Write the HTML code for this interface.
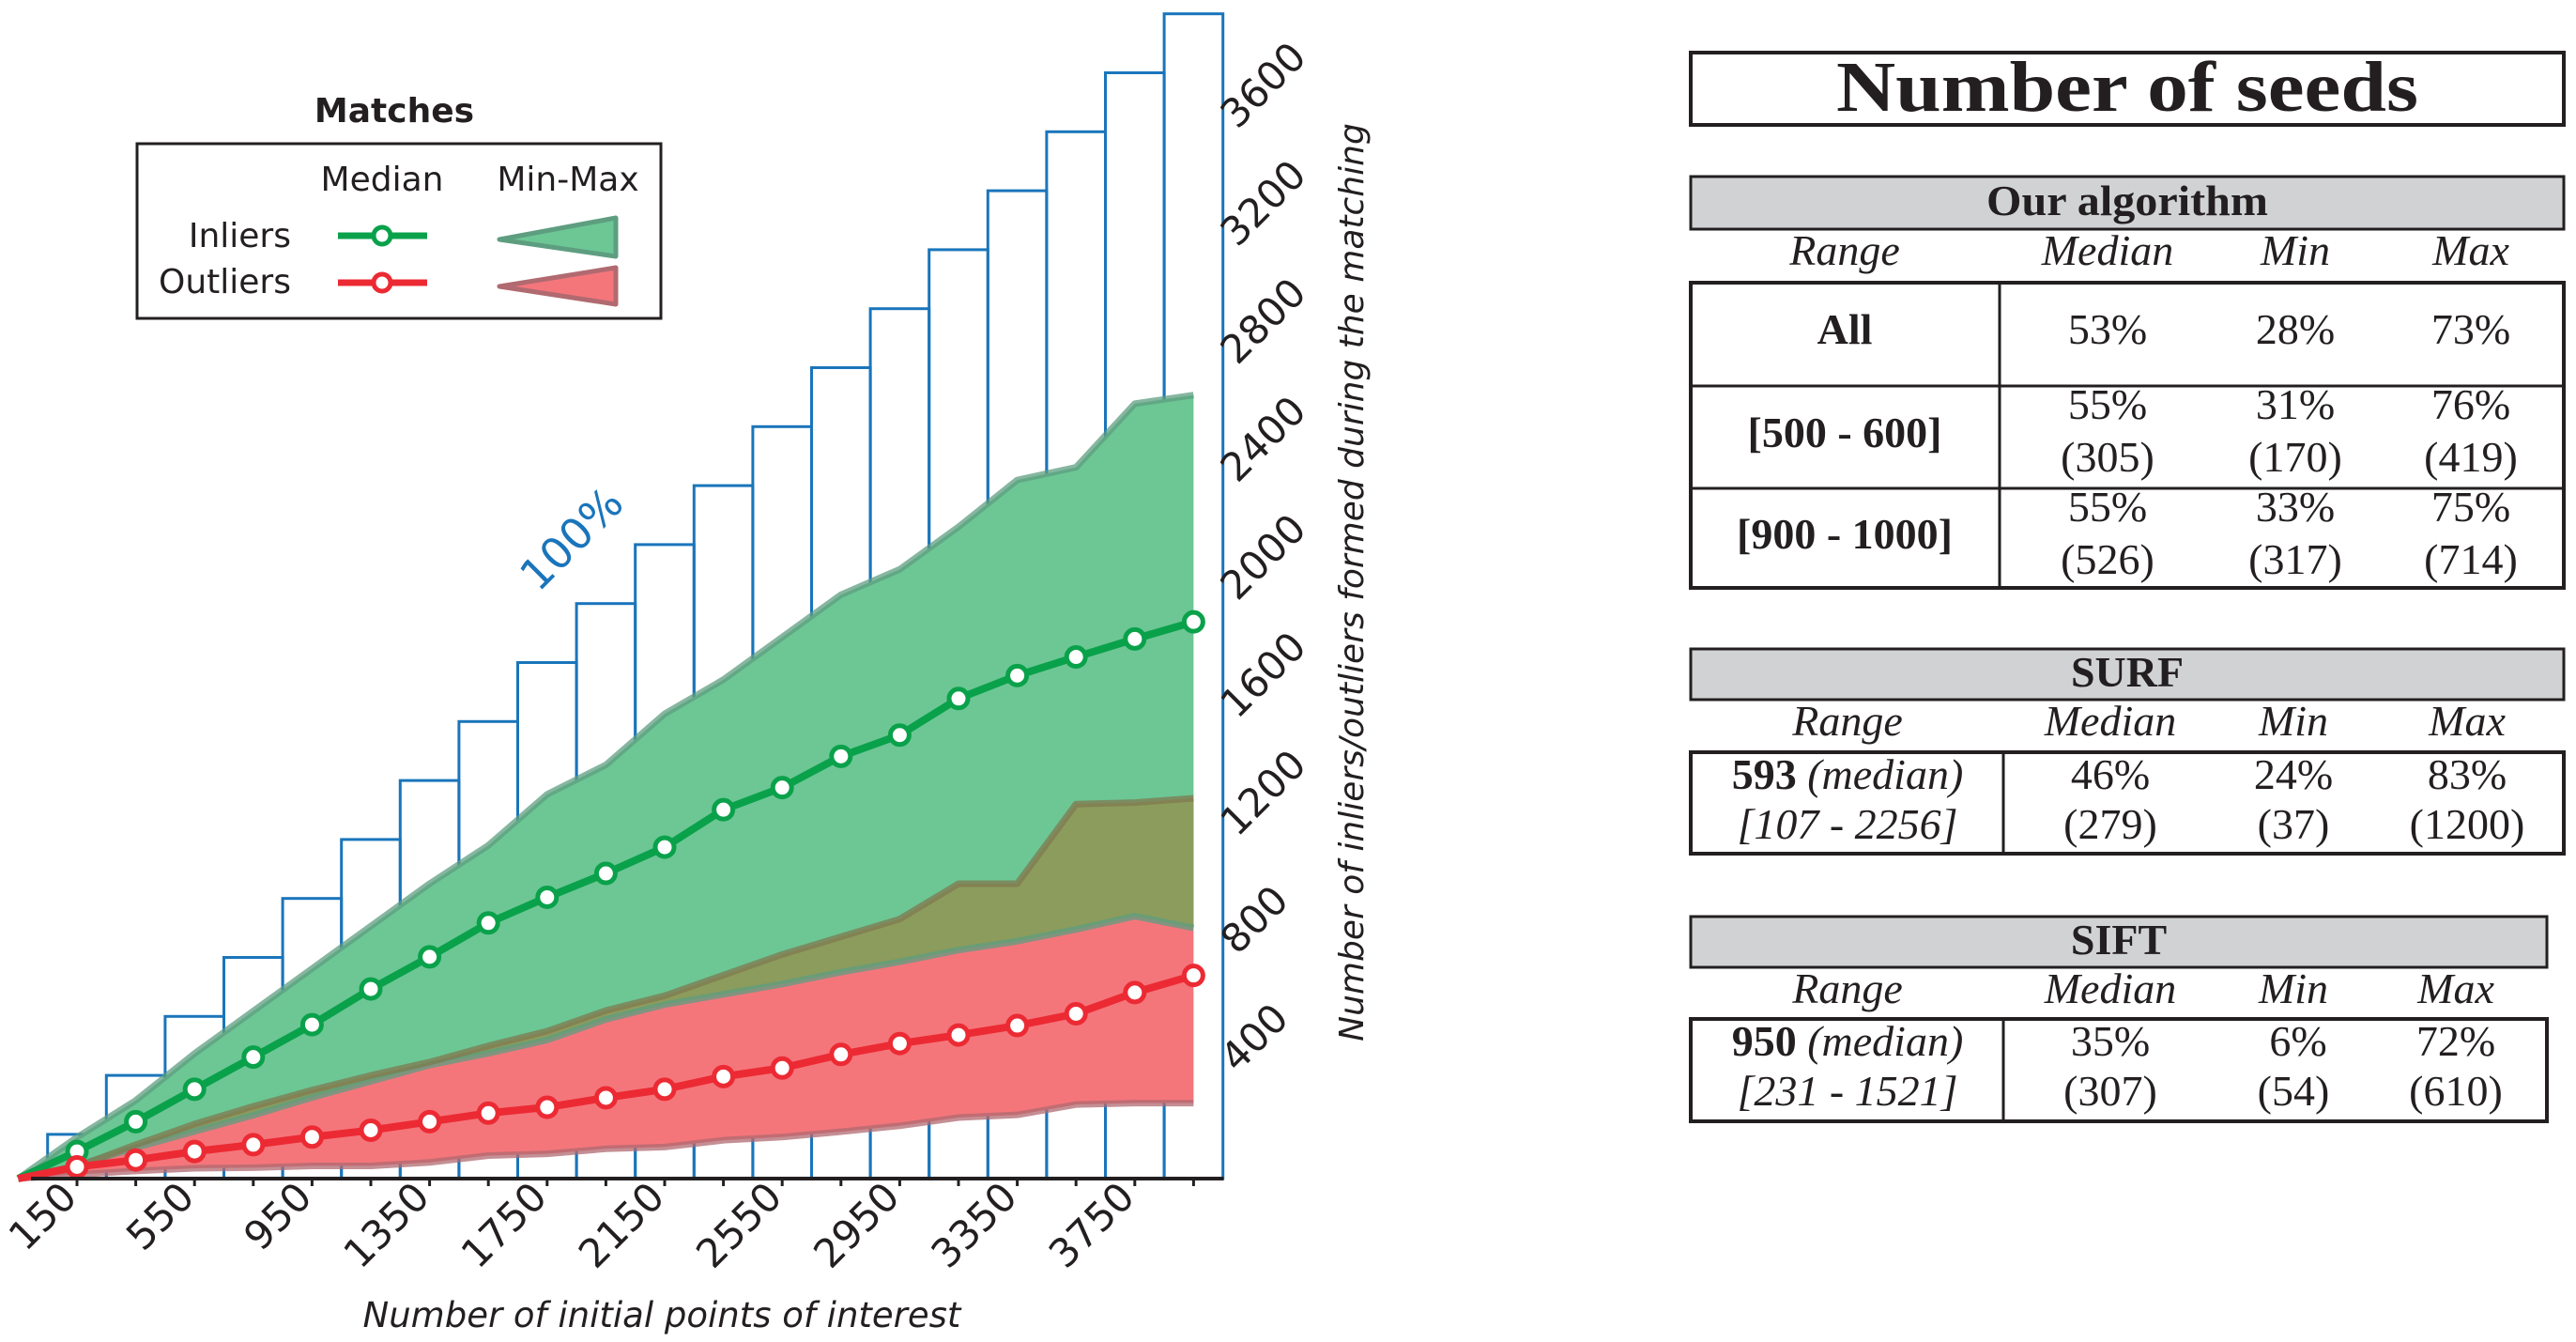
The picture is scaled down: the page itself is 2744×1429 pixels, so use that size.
<!DOCTYPE html>
<html><head><meta charset="utf-8">
<style>
html,body{margin:0;padding:0;background:#fff;}
svg{display:block;}
.sans{font-family:"DejaVu Sans","Liberation Sans",sans-serif;}
.serif{font-family:"Liberation Serif",serif;}
</style></head>
<body>
<svg id="chart" width="2744" height="1429" viewBox="0 0 2744 1429" xmlns="http://www.w3.org/2000/svg">
<defs>
<clipPath id="greenClip"><path id="greenClipPath" d=""/></clipPath>
</defs>
<g id="bars"></g>
<g id="bands"></g>
<g id="lines"></g>
<g id="axes"></g>
<text x="620" y="585" transform="rotate(-45 620 585)" text-anchor="middle" class="sans" font-size="46" fill="#1a75bb">100%</text>
<text x="705" y="1413" text-anchor="middle" class="sans" font-style="italic" font-size="37" fill="#231f20">Number of initial points of interest</text>
<text x="1452" y="620" transform="rotate(-90 1452 620)" text-anchor="middle" class="sans" font-style="italic" font-size="36" fill="#231f20">Number of inliers/outliers formed during the matching</text>

<g>
<text x="420" y="130" text-anchor="middle" class="sans" font-weight="bold" font-size="36" fill="#231f20">Matches</text>
<rect x="146" y="153" width="558" height="186" fill="none" stroke="#231f20" stroke-width="3"/>
<text x="407" y="203" text-anchor="middle" class="sans" font-size="36" fill="#231f20">Median</text>
<text x="605" y="203" text-anchor="middle" class="sans" font-size="36" fill="#231f20">Min-Max</text>
<text x="310" y="263" text-anchor="end" class="sans" font-size="36" fill="#231f20">Inliers</text>
<text x="310" y="312" text-anchor="end" class="sans" font-size="36" fill="#231f20">Outliers</text>
<g>
<line x1="360" y1="251" x2="455" y2="251" stroke="#0aa14b" stroke-width="7"/>
<circle cx="407" cy="251" r="9" fill="#fff" stroke="#0aa14b" stroke-width="5"/>
</g>
<g>
<line x1="360" y1="301" x2="455" y2="301" stroke="#ec2a33" stroke-width="7"/>
<circle cx="407" cy="301" r="9" fill="#fff" stroke="#ec2a33" stroke-width="5"/>
</g>
<g>
<polygon points="532,255 656,232 656,273" fill="#6cc794" stroke="#5e9e80" stroke-width="5" stroke-linejoin="round"/>
</g>
<g>
<polygon points="532,305 656,285 656,324" fill="#f4767b" stroke="#b06a70" stroke-width="5" stroke-linejoin="round"/>
</g>
</g>

<g class="serif" fill="#231f20">
<rect x="1801" y="56" width="930" height="77" fill="none" stroke="#231f20" stroke-width="4"/>
<text x="2266" y="118" text-anchor="middle" font-weight="bold" font-size="76" textLength="620" lengthAdjust="spacingAndGlyphs">Number of seeds</text>

<rect x="1801" y="188" width="930" height="56" fill="#d1d2d4" stroke="#231f20" stroke-width="3"/>
<text x="2266" y="229" text-anchor="middle" font-weight="bold" font-size="46" textLength="300" lengthAdjust="spacingAndGlyphs">Our algorithm</text>
<g font-style="italic" font-size="46" text-anchor="middle">
<text x="1965" y="282">Range</text><text x="2245" y="282">Median</text><text x="2445" y="282">Min</text><text x="2632" y="282">Max</text>
</g>
<rect x="1801" y="301" width="930" height="325" fill="none" stroke="#231f20" stroke-width="4"/>
<line x1="1801" y1="411" x2="2731" y2="411" stroke="#231f20" stroke-width="3"/>
<line x1="1801" y1="520" x2="2731" y2="520" stroke="#231f20" stroke-width="3"/>
<line x1="2130" y1="301" x2="2130" y2="626" stroke="#231f20" stroke-width="3"/>
<g font-size="46" text-anchor="middle">
<text x="1965" y="366" font-weight="bold">All</text>
<text x="2245" y="366">53%</text><text x="2445" y="366">28%</text><text x="2632" y="366">73%</text>
<text x="1965" y="476" font-weight="bold">[500 - 600]</text>
<text x="2245" y="446">55%</text><text x="2445" y="446">31%</text><text x="2632" y="446">76%</text>
<text x="2245" y="502">(305)</text><text x="2445" y="502">(170)</text><text x="2632" y="502">(419)</text>
<text x="1965" y="584" font-weight="bold">[900 - 1000]</text>
<text x="2245" y="555">55%</text><text x="2445" y="555">33%</text><text x="2632" y="555">75%</text>
<text x="2245" y="611">(526)</text><text x="2445" y="611">(317)</text><text x="2632" y="611">(714)</text>
</g>

<rect x="1801" y="691" width="930" height="54" fill="#d1d2d4" stroke="#231f20" stroke-width="3"/>
<text x="2266" y="731" text-anchor="middle" font-weight="bold" font-size="46">SURF</text>
<g font-style="italic" font-size="46" text-anchor="middle">
<text x="1968" y="783">Range</text><text x="2248" y="783">Median</text><text x="2443" y="783">Min</text><text x="2628" y="783">Max</text>
</g>
<rect x="1801" y="801" width="930" height="108" fill="none" stroke="#231f20" stroke-width="4"/>
<line x1="2134" y1="801" x2="2134" y2="909" stroke="#231f20" stroke-width="3"/>
<g font-size="46" text-anchor="middle">
<text x="1968" y="840"><tspan font-weight="bold">593</tspan> <tspan font-style="italic">(median)</tspan></text>
<text x="1968" y="893" font-style="italic">[107 - 2256]</text>
<text x="2248" y="840">46%</text><text x="2443" y="840">24%</text><text x="2628" y="840">83%</text>
<text x="2248" y="893">(279)</text><text x="2443" y="893">(37)</text><text x="2628" y="893">(1200)</text>
</g>

<rect x="1801" y="976" width="912" height="54" fill="#d1d2d4" stroke="#231f20" stroke-width="3"/>
<text x="2257" y="1016" text-anchor="middle" font-weight="bold" font-size="46">SIFT</text>
<g font-style="italic" font-size="46" text-anchor="middle">
<text x="1968" y="1068">Range</text><text x="2248" y="1068">Median</text><text x="2443" y="1068">Min</text><text x="2616" y="1068">Max</text>
</g>
<rect x="1801" y="1085" width="912" height="109" fill="none" stroke="#231f20" stroke-width="4"/>
<line x1="2134" y1="1085" x2="2134" y2="1194" stroke="#231f20" stroke-width="3"/>
<g font-size="46" text-anchor="middle">
<text x="1968" y="1124"><tspan font-weight="bold">950</tspan> <tspan font-style="italic">(median)</tspan></text>
<text x="1968" y="1177" font-style="italic">[231 - 1521]</text>
<text x="2248" y="1124">35%</text><text x="2448" y="1124">6%</text><text x="2616" y="1124">72%</text>
<text x="2248" y="1177">(307)</text><text x="2443" y="1177">(54)</text><text x="2616" y="1177">(610)</text>
</g>
</g>
</svg>
<script>
const categories = [150,350,550,750,950,1150,1350,1550,1750,1950,2150,2350,2550,2750,2950,3150,3350,3550,3750,3950];
const inlierMedian = [92,193,303,412,522,643,752,867,954,1035,1124,1251,1326,1432,1504,1628,1706,1769,1830,1888];
const inlierMax = [140,265,424,568,712,856,1000,1130,1303,1403,1576,1692,1836,1980,2066,2210,2369,2412,2628,2657];
const inlierMin = [45,105,160,215,275,330,385,425,470,540,590,625,660,700,735,775,805,845,890,850];
const outlierMedian = [40,63,92,115,141,164,193,222,242,274,303,346,375,421,458,487,519,559,631,689];
const outlierMax = [40,115,185,245,300,350,395,450,500,570,620,690,760,820,880,1000,1000,1270,1275,1290];
const outlierMin = [14,26,35,37,43,43,55,78,84,101,107,130,141,159,179,207,216,251,256,256];
const yTicks = [400,800,1200,1600,2000,2400,2800,3200,3600];
const xTickLabels = [150,550,950,1350,1750,2150,2550,2950,3350,3750];

const NS = 'http://www.w3.org/2000/svg';
const X0 = 82, STEP = 62.6, Y0 = 1255, KY = 0.314;
function xs(v){ return X0 + (v - categories[0]) * STEP / (categories[1]-categories[0]); }
function ys(v){ return Y0 - v * KY; }
const originX = xs(categories[0]) - STEP, originY = Y0;
function mk(tag, attrs, parent){ const e=document.createElementNS(NS,tag); for(const k in attrs) e.setAttribute(k,attrs[k]); parent.appendChild(e); return e; }

const barsG = document.getElementById('bars');
categories.forEach((c,i)=>{
  const p = mk('rect',{x:xs(c)-STEP/2,y:ys(c),width:STEP,height:Y0-ys(c),fill:'none',stroke:'#1a75bb','stroke-width':3},barsG);
  
  
});

function bandPath(lo, hi){
  let d = 'M'+originX+','+originY;
  categories.forEach((c,i)=>{ d+=' L'+xs(c)+','+ys(hi[i]); });
  for(let i=categories.length-1;i>=0;i--){ d+=' L'+xs(categories[i])+','+ys(lo[i]); }
  return d+' Z';
}
function edgePath(arr){
  let d='M'+originX+','+originY;
  categories.forEach((c,i)=>{ d+=' L'+xs(c)+','+ys(arr[i]); });
  return d;
}
const bandsG = document.getElementById('bands');
const gPath = bandPath(inlierMin, inlierMax);
const rPath = bandPath(outlierMin, outlierMax);
document.getElementById('greenClipPath').setAttribute('d', gPath);
const gb = mk('path',{d:gPath,fill:'#6cc794'},bandsG);


const rb = mk('path',{d:rPath,fill:'#f4767b'},bandsG);


const ov = mk('path',{d:rPath,fill:'#8c9c5c','clip-path':'url(#greenClip)'},bandsG);


[[inlierMax,'#5e9e80'],[inlierMin,'#5e9e80'],[outlierMax,'#7f7a50'],[outlierMin,'#b06a70']].forEach((a,k)=>{
  const e = mk('path',{d:edgePath(a[0]),fill:'none',stroke:a[1],'stroke-width':7,'stroke-opacity':0.75,'stroke-linejoin':'round'},bandsG);
  
  
});

const linesG = document.getElementById('lines');
function medianSeries(arr, color, name){
  const l = mk('path',{d:edgePath(arr),fill:'none',stroke:color,'stroke-width':8,'stroke-linejoin':'round'},linesG);
  
  
  categories.forEach((c,i)=>{
    const p = mk('circle',{cx:xs(c),cy:ys(arr[i]),r:10,fill:'#fff',stroke:color,'stroke-width':5},linesG);
    
    
  });
}
medianSeries(inlierMedian,'#0aa14b','inliers');
medianSeries(outlierMedian,'#ec2a33','outliers');

const axG = document.getElementById('axes');
const ax = mk('line',{x1:33,y1:Y0,x2:xs(categories[categories.length-1])+32,y2:Y0,stroke:'#231f20','stroke-width':4},axG);


categories.forEach(c=>{
  const t = mk('line',{x1:xs(c),y1:Y0,x2:xs(c),y2:Y0+8,stroke:'#231f20','stroke-width':3},axG);
  
  
});
xTickLabels.forEach(v=>{
  const x = xs(v)+2, y = Y0+22;
  const t = mk('text',{x:x,y:y,'text-anchor':'end',transform:'rotate(-45 '+x+' '+y+')','font-size':42,fill:'#231f20','class':'sans'},axG);
  t.textContent = v;
  
  
});
yTicks.forEach(v=>{
  const x = 1318, y = ys(v)+14;
  const t = mk('text',{x:x,y:y,'text-anchor':'start',transform:'rotate(-45 '+x+' '+y+')','font-size':42,fill:'#231f20','class':'sans'},axG);
  t.textContent = v;
  
  
});
</script>
</body></html>
